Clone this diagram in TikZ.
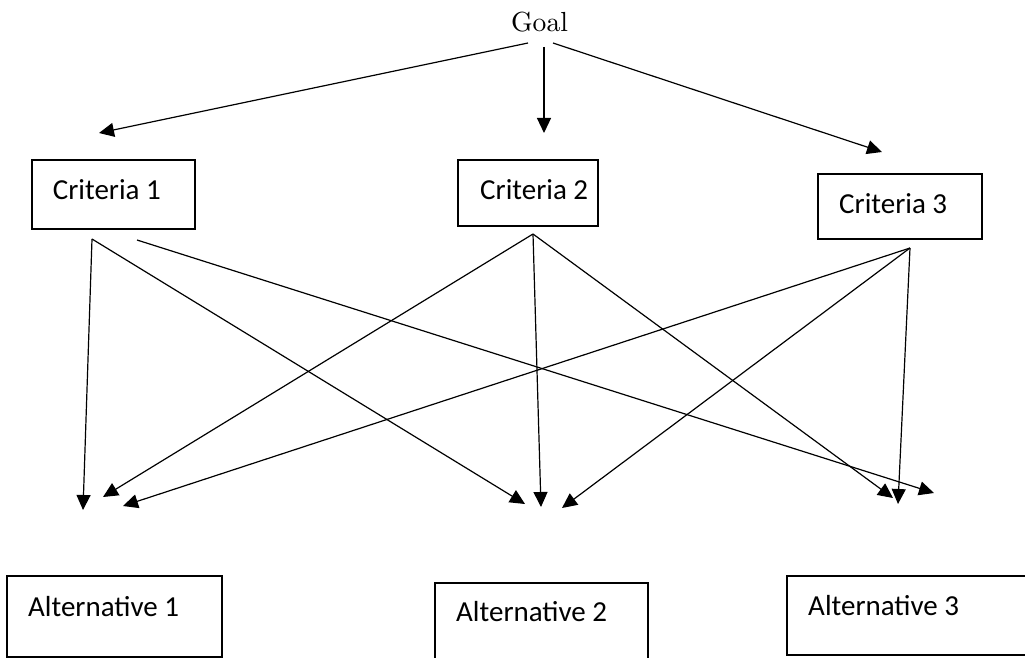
\documentclass[tikz,border=0pt]{standalone}
\usepackage{fontspec}
\newfontfamily\boxfont{Carlito}
\newfontfamily\goalfont{lmroman10-regular.otf}
\usetikzlibrary{arrows.meta}

\tikzset{
  frame/.style={draw=black, line width=1.8pt, inner sep=0pt, fill=none},
  boxtext/.style={inner sep=0pt, anchor=base west, font=\boxfont\fontsize{29}{34}\selectfont},
  goaltext/.style={inner sep=0pt, anchor=base, font=\goalfont\fontsize{27.6}{33}\selectfont},
  link/.style={draw=black, line width=1.2pt, -{Triangle[length=15pt,width=14pt]}}
}

\begin{document}
\begin{tikzpicture}[x=1pt, y=-1pt]
  \useasboundingbox (0,0) rectangle (1025,658);

  % top of the hierarchy
  \node[goaltext] (goal) at (539.5,31.7) {Goal};

  % criteria level
  \node[frame, minimum width=163pt, minimum height=69pt] (c1) at (113.5,194.5) {};
  \node[frame, minimum width=140pt, minimum height=66pt] (c2) at (528,193) {};
  \node[frame, minimum width=164pt, minimum height=65pt] (c3) at (900,206.5) {};
  \node[boxtext] (c1t) at (52.7,199) {Criteria 1};
  \node[boxtext] (c2t) at (480,199.3) {Criteria 2};
  \node[boxtext] (c3t) at (839,213.3) {Criteria 3};

  % alternatives level
  \node[frame, minimum width=215pt, minimum height=81pt] (a1) at (114.5,616.5) {};
  \node[frame, minimum width=213pt, minimum height=87pt] (a2) at (541.5,626.5) {};
  \node[frame, minimum width=253pt, minimum height=79pt] (a3) at (913.5,615.5) {};
  \node[boxtext] (a1t) at (28,616) {Alternative 1};
  \node[boxtext] (a2t) at (456,621.7) {Alternative 2};
  \node[boxtext] (a3t) at (808,615) {Alternative 3};

  % line ends
  \coordinate (gL) at (528,43);
  \coordinate (gM) at (544,47);
  \coordinate (gR) at (553,43);
  \coordinate (tC1) at (99,133);
  \coordinate (tC2) at (544,133);
  \coordinate (tC3) at (882,152);

  \coordinate (s1a) at (92,239);
  \coordinate (s1b) at (137,240);
  \coordinate (s2) at (533,234);
  \coordinate (s3) at (910,248);

  \coordinate (p1a) at (83,510);
  \coordinate (p1b) at (103,497);
  \coordinate (p1c) at (123,506);
  \coordinate (p2a) at (525,504);
  \coordinate (p2b) at (541,507);
  \coordinate (p2c) at (562,508);
  \coordinate (p3a) at (893,498);
  \coordinate (p3b) at (898,504);
  \coordinate (p3c) at (934,493);

  % goal to criteria
  \draw[link] (gL) -- (tC1);
  \draw[link] (gM) -- (tC2);
  \draw[link] (gR) -- (tC3);

  % criteria to alternatives
  \draw[link] (s1a) -- (p1a);
  \draw[link] (s1a) -- (p2a);
  \draw[link] (s1b) -- (p3c);
  \draw[link] (s2) -- (p1b);
  \draw[link] (s2) -- (p2b);
  \draw[link] (s2) -- (p3a);
  \draw[link] (s3) -- (p1c);
  \draw[link] (s3) -- (p2c);
  \draw[link] (s3) -- (p3b);
\end{tikzpicture}
\end{document}
